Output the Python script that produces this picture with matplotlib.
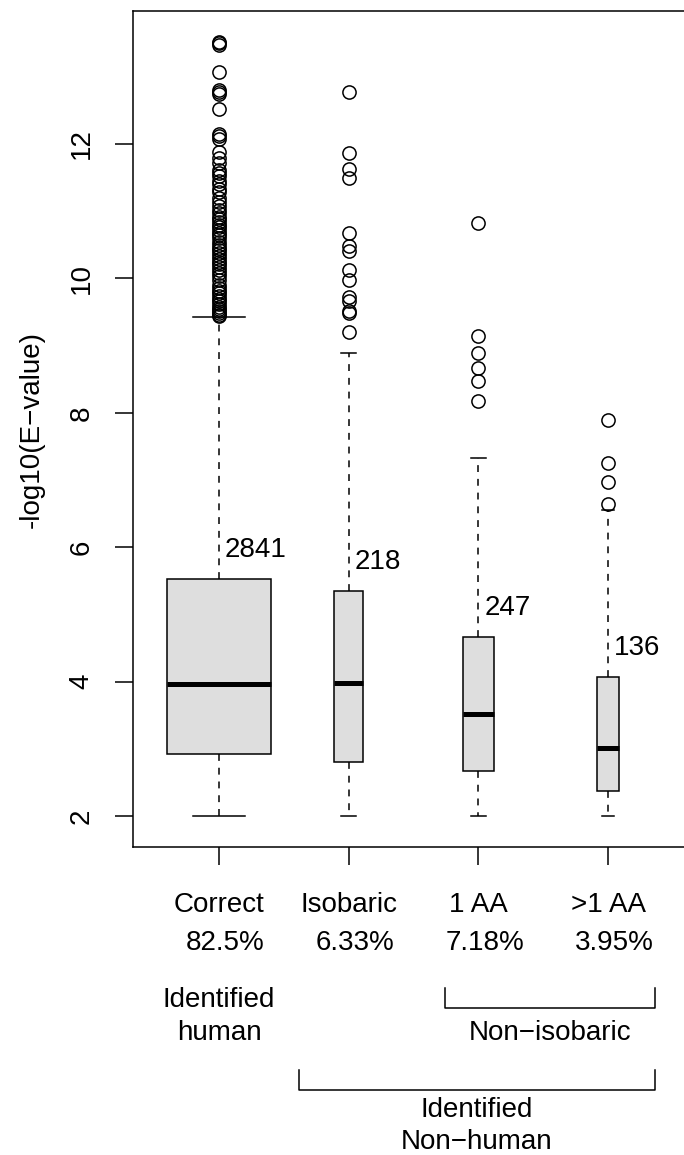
import matplotlib.pyplot as plt
import numpy as np

plt.rcParams['font.family'] = ['Liberation Sans', 'DejaVu Sans']

# groups and counts
groups = ["Correct", "Isobaric", "1 AA", ">1 AA"]
counts = [2841, 218, 247, 136]

# box statistics
q1 = [2.92, 2.80, 2.67, 2.37]
med = [3.96, 3.98, 3.52, 3.01]
q3 = [5.53, 5.35, 4.66, 4.07]
wlo = [2.0, 2.0, 2.0, 2.0]
whi = [9.43, 8.89, 7.33, 6.55]

# outliers
fl_correct = [13.52, 13.50, 13.48, 13.07, 12.80, 12.77, 12.74, 12.52, 12.15, 12.12,
              12.08, 11.88, 11.80, 11.72, 11.62, 11.57, 11.52, 11.45, 11.40, 11.33,
              11.28, 11.20, 11.14, 11.08, 11.02, 10.98, 10.92, 10.88, 10.84, 10.80,
              10.76, 10.72, 10.68, 10.64, 10.60, 10.55, 10.50, 10.46, 10.42, 10.38,
              10.33, 10.29, 10.25, 10.21, 10.17, 10.12, 10.08, 10.04, 9.98, 9.90,
              9.86, 9.82, 9.78, 9.74, 9.70, 9.66, 9.62, 9.58, 9.55, 9.52, 9.49,
              9.46, 9.44]
fl_isobaric = [12.78, 11.87, 11.63, 11.49, 10.67, 10.49, 10.41, 10.13, 9.97, 9.72,
               9.67, 9.52, 9.48, 9.20]
fl_1aa = [10.83, 9.15, 8.89, 8.67, 8.47, 8.18]
fl_gt1aa = [7.89, 7.25, 6.97, 6.65]
fliers = [fl_correct, fl_isobaric, fl_1aa, fl_gt1aa]

total = sum(counts)
pct = ["%.3g%%" % (100.0 * c / total) for c in counts]

W, H = 684, 1155
AX_L, AX_R, AX_T, AX_B = 133.4, 693.6, 11, 847  # plot region in pixels (right edge is cut off)
fig = plt.figure(figsize=(W / 100, H / 100), dpi=100)
ax = fig.add_axes([AX_L / W, 1 - AX_B / H, (AX_R - AX_L) / W, (AX_B - AX_T) / H])

pos = np.arange(1, len(groups) + 1)
widths = 0.8 * np.sqrt(counts) / np.sqrt(max(counts))

stats = []
for i in range(len(groups)):
    stats.append(dict(med=med[i], q1=q1[i], q3=q3[i], whislo=wlo[i], whishi=whi[i],
                      fliers=fliers[i]))

ax.bxp(stats, positions=pos, widths=widths, capwidths=widths * 0.5,
       patch_artist=True, showfliers=True,
       boxprops=dict(facecolor='#dedede', edgecolor='black', linewidth=1.1),
       medianprops=dict(color='black', linewidth=3.6, solid_capstyle='butt'),
       whiskerprops=dict(color='black', linewidth=1.1, linestyle=(0, (4.5, 4.5))),
       capprops=dict(color='black', linewidth=1.1),
       flierprops=dict(marker='o', markerfacecolor='none', markeredgecolor='black',
                       markersize=9.5, markeredgewidth=1.1, linestyle='none'))

# counts above the boxes
for i in range(len(groups)):
    ax.annotate(str(counts[i]), xy=(pos[i], q3[i]), xytext=(4.3, 21),
                textcoords='offset points', ha='left', va='center', fontsize=20)

ax.set_xlim(0.34, 4.66)
ax.set_ylim(1.54, 13.98)
ax.set_yticks([2, 4, 6, 8, 10, 12])
ax.set_yticklabels(["2", "4", "6", "8", "10", "12"], rotation=90, va='center')
ax.set_xticks(pos)
ax.set_xticklabels([""] * len(groups))
ax.tick_params(axis='both', length=13, width=1.1, labelsize=20)
ax.tick_params(axis='y', pad=15)
for s in ax.spines.values():
    s.set_linewidth(1.1)
fig.text(32 / W, 1 - (AX_T + AX_B) / 2 / H, "-log10(E\u2212value)", rotation=90,
         ha='center', va='center', fontsize=20)

# labels under the axis
def ypx(p):
    return (AX_B - p) / float(AX_B - AX_T)

tr = ax.get_xaxis_transform()
for i in range(len(groups)):
    ax.text(pos[i], ypx(905), groups[i], transform=tr, ha='center', va='center',
            fontsize=20, clip_on=False)
    ax.annotate(pct[i], xy=(pos[i], ypx(943)), xycoords=tr, xytext=(4.5, 0),
                textcoords='offset points', ha='center', va='center', fontsize=20)

ax.text(pos[0], ypx(1000), "Identified", transform=tr, ha='center', va='center',
        fontsize=20, clip_on=False)
ax.text(pos[0], ypx(1033), "human", transform=tr, ha='center', va='center',
        fontsize=20, clip_on=False)

# brackets
b1 = (2.74, 4.36)
b2 = (1.62, 4.36)
ax.plot([b1[0], b1[0], b1[1], b1[1]], [ypx(988), ypx(1008), ypx(1008), ypx(988)],
        transform=tr, color='black', lw=1.1, clip_on=False)
ax.text(sum(b1) / 2, ypx(1033), "Non\u2212isobaric", transform=tr, ha='center',
        va='center', fontsize=20, clip_on=False)
ax.plot([b2[0], b2[0], b2[1], b2[1]], [ypx(1070), ypx(1090), ypx(1090), ypx(1070)],
        transform=tr, color='black', lw=1.1, clip_on=False)
ax.text(sum(b2) / 2, ypx(1110), "Identified", transform=tr, ha='center',
        va='center', fontsize=20, clip_on=False)
ax.text(sum(b2) / 2, ypx(1142), "Non\u2212human", transform=tr, ha='center',
        va='center', fontsize=20, clip_on=False)

fig.savefig("out.png", dpi=100)
